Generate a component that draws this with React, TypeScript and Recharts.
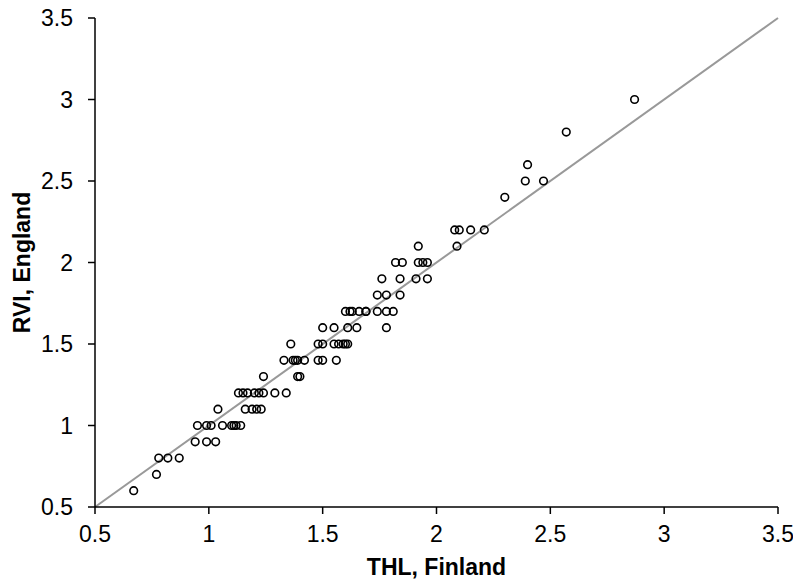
import React from "react";
import {
  ScatterChart, Scatter, XAxis, YAxis, ReferenceLine,
} from "recharts";

// THL (Finland) vs RVI (England) paired titres
const thlFinland = [
  0.67,
  0.77,
  0.78, 0.82, 0.87,
  0.94, 0.99, 1.03,
  0.95, 0.99, 1.01, 1.06, 1.10, 1.11, 1.12, 1.14,
  1.04, 1.16, 1.19, 1.21, 1.23,
  1.13, 1.15, 1.17, 1.20, 1.22, 1.24, 1.29, 1.34,
  1.24, 1.39, 1.40,
  1.33, 1.37, 1.38, 1.39, 1.42, 1.48, 1.50, 1.56,
  1.36, 1.48, 1.50, 1.55, 1.57, 1.59, 1.60, 1.61,
  1.50, 1.55, 1.61, 1.65, 1.78,
  1.60, 1.62, 1.63, 1.66, 1.69, 1.69, 1.74, 1.78, 1.81,
  1.74, 1.78, 1.84,
  1.76, 1.84, 1.91, 1.96,
  1.82, 1.85, 1.92, 1.94, 1.96,
  1.92, 2.09,
  2.08, 2.10, 2.15, 2.21,
  2.30,
  2.39, 2.47,
  2.40,
  2.57,
  2.87,
];

const rviEngland = [
  0.6,
  0.7,
  0.8, 0.8, 0.8,
  0.9, 0.9, 0.9,
  1.0, 1.0, 1.0, 1.0, 1.0, 1.0, 1.0, 1.0,
  1.1, 1.1, 1.1, 1.1, 1.1,
  1.2, 1.2, 1.2, 1.2, 1.2, 1.2, 1.2, 1.2,
  1.3, 1.3, 1.3,
  1.4, 1.4, 1.4, 1.4, 1.4, 1.4, 1.4, 1.4,
  1.5, 1.5, 1.5, 1.5, 1.5, 1.5, 1.5, 1.5,
  1.6, 1.6, 1.6, 1.6, 1.6,
  1.7, 1.7, 1.7, 1.7, 1.7, 1.7, 1.7, 1.7, 1.7,
  1.8, 1.8, 1.8,
  1.9, 1.9, 1.9, 1.9,
  2.0, 2.0, 2.0, 2.0, 2.0,
  2.1, 2.1,
  2.2, 2.2, 2.2, 2.2,
  2.4,
  2.5, 2.5,
  2.6,
  2.8,
  3.0,
];

const axisTicks = [0.5, 1, 1.5, 2, 2.5, 3, 3.5];
const identityLine = [{ x: 0.5, y: 0.5 }, { x: 3.5, y: 3.5 }];

const FONT = "Arial, 'Liberation Sans', sans-serif";

const data = thlFinland.map((x, i) => ({ x, y: rviEngland[i] }));

const tickStyle = { fill: "#000", fontSize: 23, fontFamily: FONT };

function OpenCircle(props: { cx?: number; cy?: number }) {
  const { cx, cy } = props;
  if (cx == null || cy == null) return null;
  return <circle cx={cx} cy={cy} r={3.8} fill="none" stroke="#000" strokeWidth={1.6} />;
}

function YTitle(props: { viewBox?: { x: number; y: number; width: number; height: number } }) {
  const vb = props.viewBox;
  if (!vb) return null;
  const cx = vb.x + 22;
  const cy = vb.y + vb.height / 2;
  return (
    <text
      x={cx} y={cy}
      transform={`rotate(-90, ${cx}, ${cy})`}
      textAnchor="middle" dominantBaseline="central"
      fontFamily={FONT} fontSize={23} fontWeight="bold" fill="#000"
    >
      RVI, England
    </text>
  );
}

export default function App() {
  return (
    <div style={{ position: "absolute", left: 0, top: 0, background: "#fff" }}>
      <ScatterChart width={793} height={582} margin={{ top: 18, right: 15, bottom: 0, left: 0 }}>
        <XAxis
          type="number" dataKey="x"
          domain={[0.5, 3.5]} ticks={axisTicks} interval={0}
          allowDataOverflow
          tick={tickStyle}
          tickSize={7} tickMargin={12}
          axisLine={{ stroke: "#000", strokeWidth: 1.5 }}
          tickLine={{ stroke: "#000", strokeWidth: 1.5 }}
          height={75}
          label={{
            value: "THL, Finland", position: "insideBottom", offset: 7,
            style: { fill: "#000", fontSize: 23, fontWeight: "bold", fontFamily: FONT },
          }}
        />
        <YAxis
          type="number" dataKey="y"
          domain={[0.5, 3.5]} ticks={axisTicks} interval={0}
          allowDataOverflow
          tick={tickStyle}
          tickSize={7} tickMargin={15}
          axisLine={{ stroke: "#000", strokeWidth: 1.5 }}
          tickLine={{ stroke: "#000", strokeWidth: 1.5 }}
          width={95}
          label={<YTitle />}
        />
        <ReferenceLine
          segment={identityLine}
          stroke="#999" strokeWidth={2}
          ifOverflow="extendDomain"
        />
        <Scatter data={data} shape={<OpenCircle />} isAnimationActive={false} />
      </ScatterChart>
    </div>
  );
}
